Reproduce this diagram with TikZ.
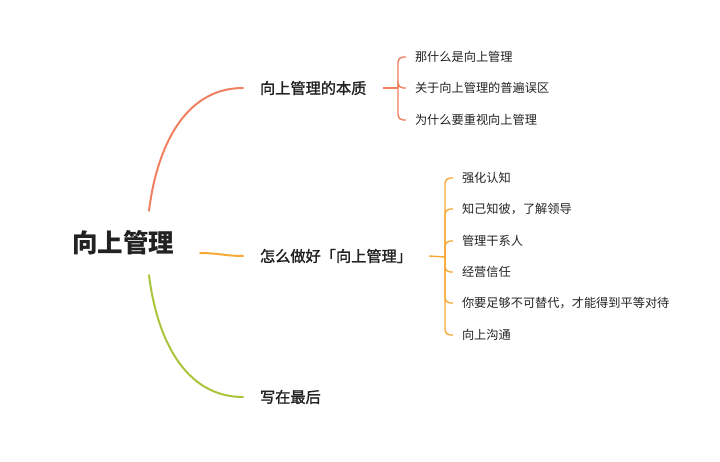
\documentclass[tikz,border=0pt]{standalone}
\usepackage{fontspec}
\setmainfont{Noto Sans CJK SC}
\newfontfamily\semib[BoldFont={Noto Sans CJK SC},BoldFeatures={FakeBold=1.6}]{Noto Sans CJK SC}
\usepackage{tikz}
\usetikzlibrary{arrows.meta,positioning,calc}
\definecolor{redln}{HTML}{F0805F}
\definecolor{orgln}{HTML}{F6A935}
\definecolor{grnln}{HTML}{A9C53C}
\definecolor{txt}{HTML}{222222}

\begin{document}
\begin{tikzpicture}[x=1pt,y=-1pt,
  root/.style={inner sep=0pt,minimum height=64pt,text=txt,font=\fontsize{25.5}{28}\selectfont\bfseries},
  topic/.style={anchor=west,inner sep=0pt,outer xsep=17pt,text=txt,font=\fontsize{15.2}{18}\selectfont\semib\bfseries},
  leaf/.style={anchor=west,inner sep=0pt,outer xsep=9pt,text=txt,font=\fontsize{12.2}{14}\selectfont},
  curve/.style={line width=2pt,line cap=round},
  brace/.style={line width=1.4pt,rounded corners=5pt}]
\useasboundingbox (0,0) rectangle (720,462);
\node[root] (r) at (123,243) {向上管理};
\node[topic] (t1) at (243,88) {向上管理的本质};
\node[topic] (t2) at (243,256) {怎么做好「向上管理」};
\node[topic] (t3) at (243,397) {写在最后};
\draw[curve,redln] ([xshift=26pt]r.north) to[out=83,in=180] (t1.west);
\draw[curve,orgln] ([shift={(26pt,-10pt)}]r.east) to[out=0,in=180] (t2.west);
\draw[curve,grnln] ([xshift=26pt]r.south) to[out=-83,in=180] (t3.west);
% 向上管理的本质
\node[leaf] (a1) at (406,57) {那什么是向上管理};
\node[leaf] (a2) at (406,88) {关于向上管理的普遍误区};
\node[leaf] (a3) at (406,120) {为什么要重视向上管理};
\coordinate (ha) at (398,88);
\draw[brace,redln] (t1.east) -- (ha);
\foreach \c in {a1,a2,a3}
  \draw[brace,redln] (ha) |- (\c.west);
% 怎么做好
\node[leaf] (b1) at (453,178) {强化认知};
\node[leaf] (b2) at (453,209) {知己知彼，了解领导};
\node[leaf] (b3) at (453,241) {管理干系人};
\node[leaf] (b4) at (453,272) {经营信任};
\node[leaf] (b5) at (453,303) {你要足够不可替代，才能得到平等对待};
\node[leaf] (b6) at (453,335) {向上沟通};
\coordinate (hb) at (445,257);
\draw[brace,orgln] (t2.east) -- (hb);
\foreach \c in {b1,b2,b3,b4,b5,b6}
  \draw[brace,orgln] (hb) |- (\c.west);
\end{tikzpicture}
\end{document}
